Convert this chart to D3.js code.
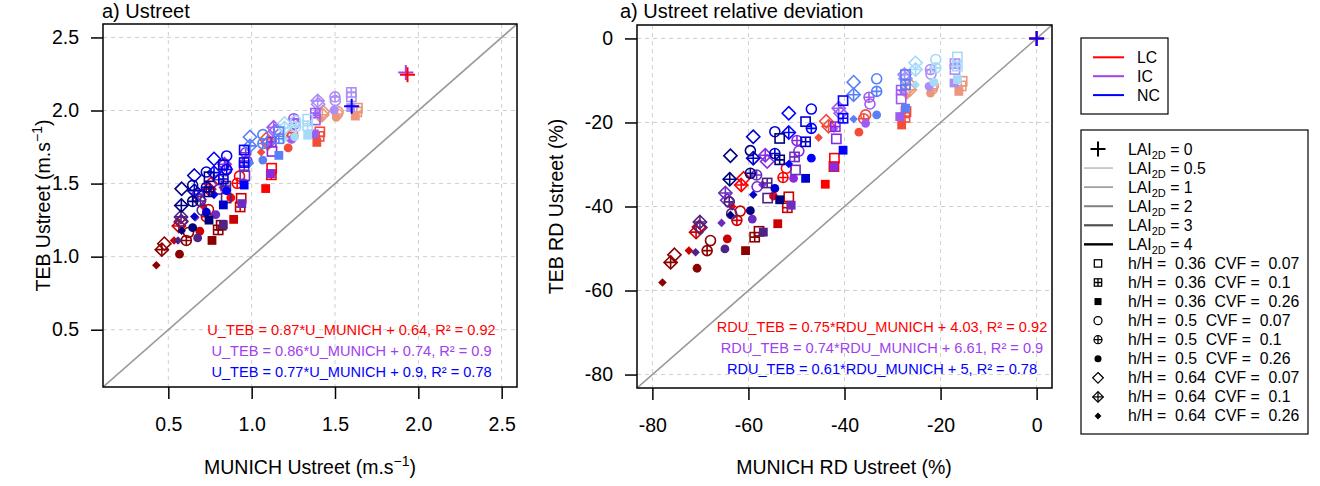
<!DOCTYPE html>
<html><head><meta charset="utf-8">
<script src="https://cdn.jsdelivr.net/npm/d3@7"></script>
<style>
body{margin:0;background:#fff}
text{font-family:"Liberation Sans",Arial,Helvetica,sans-serif;fill:#000}
</style>
</head><body>
<svg id="c" width="1320" height="486"></svg>
<script>
// ---------------- DATA ----------------
const laiLevels = [0.5, 1, 2, 3, 4];
const configNames = ["LC", "IC", "NC"];
const shapeLabels = [
  "h/H =  0.36  CVF =  0.07", "h/H =  0.36  CVF =  0.1", "h/H =  0.36  CVF =  0.26",
  "h/H =  0.5  CVF =  0.07", "h/H =  0.5  CVF =  0.1", "h/H =  0.5  CVF =  0.26",
  "h/H =  0.64  CVF =  0.07", "h/H =  0.64  CVF =  0.1", "h/H =  0.64  CVF =  0.26"
];
const ticksU = [0.5, 1.0, 1.5, 2.0, 2.5];
const ticksRD = [-80, -60, -40, -20, 0];

// Ustreet (MUNICH, TEB) per LAI (0.5,1,2,3,4) x 9 (h/H, CVF) combinations
const lcU = [
 [[1.635,2.016],[1.631,1.991],[1.622,1.962],[1.519,1.991],[1.515,1.976],[1.507,1.953],[1.428,1.991],[1.424,1.971],[1.413,1.940]],
 [[1.409,1.854],[1.405,1.823],[1.391,1.782],[1.246,1.836],[1.238,1.816],[1.219,1.744],[1.087,1.803],[1.097,1.776],[1.057,1.715]],
 [[1.120,1.605],[1.118,1.560],[1.084,1.466],[0.927,1.551],[0.913,1.502],[0.875,1.403],[0.755,1.497],[0.745,1.462],[0.708,1.347]],
 [[0.937,1.399],[0.931,1.340],[0.892,1.255],[0.741,1.322],[0.728,1.273],[0.689,1.174],[0.575,1.237],[0.563,1.210],[0.534,1.111]],
 [[0.817,1.215],[0.799,1.183],[0.762,1.111],[0.621,1.165],[0.608,1.111],[0.567,1.017],[0.476,1.089],[0.461,1.048],[0.428,0.941]]
];
const icU = [
 [[1.598,2.093],[1.598,2.124],[1.594,2.020],[1.502,2.068],[1.500,2.093],[1.494,2.002],[1.399,2.043],[1.396,2.066],[1.388,1.978]],
 [[1.382,1.935],[1.382,1.982],[1.376,1.840],[1.257,1.907],[1.253,1.944],[1.240,1.803],[1.140,1.858],[1.132,1.885],[1.113,1.774]],
 [[1.122,1.720],[1.118,1.785],[1.113,1.568],[0.972,1.654],[0.964,1.711],[0.951,1.507],[0.845,1.598],[0.837,1.632],[0.826,1.474]],
 [[0.959,1.553],[0.955,1.623],[0.941,1.363],[0.805,1.462],[0.803,1.526],[0.785,1.288],[0.685,1.390],[0.678,1.428],[0.662,1.268]],
 [[0.847,1.401],[0.845,1.483],[0.830,1.218],[0.703,1.318],[0.693,1.381],[0.676,1.128],[0.578,1.243],[0.576,1.272],[0.558,1.110]]
];
const ncU = [
 [[1.336,1.941],[1.336,1.896],[1.336,1.831],[1.264,1.929],[1.264,1.888],[1.258,1.819],[1.197,1.912],[1.197,1.880],[1.197,1.807]],
 [[1.163,1.855],[1.163,1.807],[1.163,1.693],[1.067,1.835],[1.067,1.774],[1.067,1.661],[0.990,1.819],[0.990,1.758],[0.990,1.640]],
 [[0.955,1.730],[0.955,1.644],[0.955,1.490],[0.850,1.689],[0.850,1.596],[0.850,1.451],[0.774,1.669],[0.774,1.575],[0.774,1.423]],
 [[0.830,1.628],[0.830,1.531],[0.830,1.354],[0.728,1.579],[0.728,1.474],[0.728,1.305],[0.656,1.555],[0.656,1.451],[0.656,1.275]],
 [[0.744,1.547],[0.744,1.443],[0.744,1.250],[0.646,1.488],[0.646,1.378],[0.646,1.198],[0.580,1.464],[0.578,1.350],[0.580,1.177]]
];
const lai0U = [[1.935,2.245],[1.925,2.260],[1.600,2.030]];   // LC, IC, NC

// Relative deviation (%) (MUNICH, TEB)
const lcRD = [
 [[-15.5,-10.2],[-15.7,-11.3],[-16.2,-12.6],[-21.5,-11.3],[-21.7,-12.0],[-22.1,-13.0],[-26.2,-11.3],[-26.4,-12.2],[-27.0,-13.6]],
 [[-27.2,-17.4],[-27.4,-18.8],[-28.1,-20.6],[-35.6,-18.2],[-36.0,-19.1],[-37.0,-22.3],[-43.8,-19.7],[-43.3,-20.9],[-45.4,-23.6]],
 [[-42.1,-28.5],[-42.2,-30.5],[-44.0,-34.7],[-52.1,-30.9],[-52.8,-33.1],[-54.8,-37.5],[-61.0,-33.3],[-61.5,-34.9],[-63.4,-40.0]],
 [[-51.6,-37.7],[-51.9,-40.3],[-53.9,-44.1],[-61.7,-41.1],[-62.4,-43.3],[-64.4,-47.7],[-70.3,-44.9],[-70.9,-46.1],[-72.4,-50.5]],
 [[-57.8,-45.9],[-58.7,-47.3],[-60.6,-50.5],[-67.9,-48.1],[-68.6,-50.5],[-70.7,-54.7],[-75.4,-51.5],[-76.2,-53.3],[-77.9,-58.1]]
];
const icRD = [
 [[-17.0,-7.4],[-17.0,-6.0],[-17.2,-10.6],[-22.0,-8.5],[-22.1,-7.4],[-22.4,-11.4],[-27.3,-9.6],[-27.5,-8.6],[-27.9,-12.5]],
 [[-28.2,-14.4],[-28.2,-12.3],[-28.5,-18.6],[-34.7,-15.6],[-34.9,-14.0],[-35.6,-20.2],[-40.8,-17.8],[-41.2,-16.6],[-42.2,-21.5]],
 [[-41.7,-23.9],[-41.9,-21.0],[-42.2,-30.6],[-49.5,-26.8],[-49.9,-24.3],[-50.6,-33.3],[-56.1,-29.3],[-56.5,-27.8],[-57.1,-34.8]],
 [[-50.2,-31.3],[-50.4,-28.2],[-51.1,-39.7],[-58.2,-35.3],[-58.3,-32.5],[-59.2,-43.0],[-64.4,-38.5],[-64.8,-36.8],[-65.6,-43.9]],
 [[-56.0,-38.0],[-56.1,-34.4],[-56.9,-46.1],[-63.5,-41.7],[-64.0,-38.9],[-64.9,-50.1],[-70.0,-45.0],[-70.1,-43.7],[-71.0,-50.9]]
];
const ncRD = [
 [[-16.5,-4.4],[-16.5,-6.6],[-16.5,-9.8],[-21.0,-5.0],[-21.0,-7.0],[-21.4,-10.4],[-25.2,-5.8],[-25.2,-7.4],[-25.2,-11.0]],
 [[-27.3,-8.6],[-27.3,-11.0],[-27.3,-16.6],[-33.3,-9.6],[-33.3,-12.6],[-33.3,-18.2],[-38.1,-10.4],[-38.1,-13.4],[-38.1,-19.2]],
 [[-40.3,-14.8],[-40.3,-19.0],[-40.3,-26.6],[-46.9,-16.8],[-46.9,-21.4],[-46.9,-28.5],[-51.6,-17.8],[-51.6,-22.4],[-51.6,-29.9]],
 [[-48.1,-19.8],[-48.1,-24.6],[-48.1,-33.3],[-54.5,-22.2],[-54.5,-27.4],[-54.5,-35.7],[-59.0,-23.4],[-59.0,-28.5],[-59.0,-37.2]],
 [[-53.5,-23.8],[-53.5,-28.9],[-53.5,-38.4],[-59.6,-26.7],[-59.6,-32.1],[-59.6,-41.0],[-63.75,-27.9],[-63.9,-33.5],[-63.75,-42.0]]
];
const lai0RD = [[0,0],[0,0],[0,0]];

const eqU = ["U_TEB = 0.87*U_MUNICH + 0.64, R\u00B2 = 0.92",
             "U_TEB = 0.86*U_MUNICH + 0.74, R\u00B2 = 0.9",
             "U_TEB = 0.77*U_MUNICH + 0.9, R\u00B2 = 0.78"];
const eqRD = ["RDU_TEB = 0.75*RDU_MUNICH + 4.03, R\u00B2 = 0.92",
              "RDU_TEB = 0.74*RDU_MUNICH + 6.61, R\u00B2 = 0.9",
              "RDU_TEB = 0.61*RDU_MUNICH + 5, R\u00B2 = 0.78"];

// ---------------- STYLE ----------------
const cfgColor = ["#FF0000", "#A040F0", "#0000FF"];
const laiColors = [
  ["#EC977D", "#F44B3B", "#FF0000", "#CC0000", "#8B0000"],
  ["#AD8DF7", "#9D5CF2", "#8A2BE2", "#6B2CC0", "#4F2288"],
  ["#A6DAF9", "#5A80F7", "#0000FF", "#0000CD", "#000080"]
];
const laiGreys = ["#C0C0C0", "#A0A0A0", "#808080", "#505050", "#000000"];
const FONT = '"Liberation Sans",Arial,Helvetica,sans-serif';

const svg = d3.select("#c");

function marker(g, type, cx, cy, color) {
  const sw = 1.6;
  const plus = (r) => `M${cx - r},${cy}H${cx + r}M${cx},${cy - r}V${cy + r}`;
  const dia = (r) => `M${cx},${cy - r}L${cx + r},${cy}L${cx},${cy + r}L${cx - r},${cy}Z`;
  switch (type) {
    case 0: g.append("rect").attr("x", cx - 4.6).attr("y", cy - 4.6).attr("width", 9.2).attr("height", 9.2)
              .attr("fill", "none").attr("stroke", color).attr("stroke-width", sw); break;
    case 1: g.append("rect").attr("x", cx - 4.6).attr("y", cy - 4.6).attr("width", 9.2).attr("height", 9.2)
              .attr("fill", "none").attr("stroke", color).attr("stroke-width", sw);
            g.append("path").attr("d", plus(4.6)).attr("stroke", color).attr("stroke-width", sw).attr("fill", "none"); break;
    case 2: g.append("rect").attr("x", cx - 4.4).attr("y", cy - 4.4).attr("width", 8.8).attr("height", 8.8)
              .attr("fill", color); break;
    case 3: g.append("circle").attr("cx", cx).attr("cy", cy).attr("r", 5)
              .attr("fill", "none").attr("stroke", color).attr("stroke-width", sw); break;
    case 4: g.append("circle").attr("cx", cx).attr("cy", cy).attr("r", 5)
              .attr("fill", "none").attr("stroke", color).attr("stroke-width", sw);
            g.append("path").attr("d", plus(5)).attr("stroke", color).attr("stroke-width", sw).attr("fill", "none"); break;
    case 5: g.append("circle").attr("cx", cx).attr("cy", cy).attr("r", 4.4).attr("fill", color); break;
    case 6: g.append("path").attr("d", dia(6.6)).attr("fill", "none").attr("stroke", color).attr("stroke-width", sw); break;
    case 7: g.append("path").attr("d", dia(6.6)).attr("fill", "none").attr("stroke", color).attr("stroke-width", sw);
            g.append("path").attr("d", plus(6.6)).attr("stroke", color).attr("stroke-width", sw).attr("fill", "none"); break;
    case 8: g.append("path").attr("d", dia(4.3)).attr("fill", color); break;
    case 9: g.append("path").attr("d", plus(7.5)).attr("stroke", color).attr("stroke-width", 2).attr("fill", "none"); break;
  }
}

function panel(opt) {
  const x = d3.scaleLinear().domain(opt.domain).range([opt.left, opt.right]);
  const y = d3.scaleLinear().domain(opt.domain).range([opt.bottom, opt.top]);
  const g = svg.append("g");
  const clipId = "clip" + opt.id;
  svg.append("clipPath").attr("id", clipId).append("rect")
    .attr("x", opt.left).attr("y", opt.top).attr("width", opt.right - opt.left).attr("height", opt.bottom - opt.top);

  // grid
  const grid = g.append("g").attr("stroke", "#cfcfcf").attr("stroke-width", 1).attr("stroke-dasharray", "4,4");
  opt.ticks.forEach(t => {
    grid.append("line").attr("x1", x(t)).attr("x2", x(t)).attr("y1", opt.top).attr("y2", opt.bottom);
    grid.append("line").attr("y1", y(t)).attr("y2", y(t)).attr("x1", opt.left).attr("x2", opt.right);
  });
  // 1:1 line
  g.append("line").attr("clip-path", `url(#${clipId})`)
    .attr("x1", x(opt.domain[0])).attr("y1", y(opt.domain[0]))
    .attr("x2", x(opt.domain[1])).attr("y2", y(opt.domain[1]))
    .attr("stroke", "#999999").attr("stroke-width", 1.6);

  // points: LC, IC, NC
  const pts = g.append("g");
  opt.series.forEach((ser, ci) => {
    ser.forEach((lvl, li) => {
      lvl.forEach((p, si) => marker(pts, si, x(p[0]), y(p[1]), laiColors[ci][li]));
    });
  });
  // LAI = 0 crosses (IC, LC, NC)
  [1, 0, 2].forEach(ci => marker(pts, 9, x(opt.zero[ci][0]), y(opt.zero[ci][1]), cfgColor[ci]));

  // axes
  const ax = g.append("g").attr("transform", `translate(0,${opt.bottom})`)
    .call(d3.axisBottom(x).tickValues(opt.ticks).tickSize(12).tickPadding(18).tickFormat(opt.fmt));
  const ay = g.append("g").attr("transform", `translate(${opt.left},0)`)
    .call(d3.axisLeft(y).tickValues(opt.ticks).tickSize(12).tickPadding(12).tickFormat(opt.fmt));
  [ax, ay].forEach(a => {
    a.select(".domain").remove();
    a.selectAll("line").attr("stroke", "#000").attr("stroke-width", 1.5);
    a.selectAll("text").attr("font-size", 19.5).attr("font-family", FONT).attr("fill", "#000");
  });
  // box
  g.append("rect").attr("x", opt.left).attr("y", opt.top)
    .attr("width", opt.right - opt.left).attr("height", opt.bottom - opt.top)
    .attr("fill", "none").attr("stroke", "#000").attr("stroke-width", 1.5);

  // title
  g.append("text").attr("x", opt.titleX).attr("y", 17.5).attr("font-size", 20).text(opt.title);

  // equations
  opt.eqs.forEach((t, i) => {
    g.append("text").attr("x", opt.eqX).attr("y", opt.eqY + i * 21).attr("text-anchor", "middle")
      .attr("font-size", 14.6).style("fill", cfgColor[i]).text(t);
  });

  // axis titles
  const xt = g.append("text").attr("x", opt.xTitleX).attr("y", 474).attr("text-anchor", "middle").attr("font-size", 19.5);
  opt.xTitle(xt);
  const yt = g.append("text").attr("transform", `translate(${opt.yTitleX},${(opt.top + opt.bottom) / 2}) rotate(-90)`)
    .attr("text-anchor", "middle").attr("font-size", 19.5);
  opt.yTitle(yt);
}

function unitTitle(prefix) {
  return (t) => {
    t.append("tspan").text(prefix + " (m.s");
    t.append("tspan").attr("font-size", 14).attr("dy", -8).text("\u22121");
    t.append("tspan").attr("dy", 8).text(")");
  };
}

panel({
  id: "a", left: 103, right: 517, top: 24, bottom: 387, domain: [0.108, 2.592],
  ticks: ticksU, fmt: d3.format(".1f"), series: [lcU, icU, ncU], zero: lai0U,
  title: "a) Ustreet", titleX: 102, eqs: eqU, eqX: 351.5, eqY: 335,
  xTitleX: 310, yTitleX: 50,
  xTitle: unitTitle("MUNICH Ustreet"), yTitle: unitTitle("TEB Ustreet")
});
panel({
  id: "b", left: 637, right: 1052, top: 25, bottom: 388, domain: [-83.2, 3.2],
  ticks: ticksRD, fmt: d => String(d), series: [lcRD, icRD, ncRD], zero: lai0RD,
  title: "a) Ustreet relative deviation", titleX: 620, eqs: eqRD, eqX: 882, eqY: 332,
  xTitleX: 844, yTitleX: 563,
  xTitle: t => t.text("MUNICH RD Ustreet (%)"), yTitle: t => t.text("TEB RD Ustreet (%)")
});

// ---------------- LEGENDS ----------------
const leg1 = svg.append("g");
leg1.append("rect").attr("x", 1081).attr("y", 38).attr("width", 87).attr("height", 76)
  .attr("fill", "#fff").attr("stroke", "#000").attr("stroke-width", 1.2);
configNames.forEach((n, i) => {
  const yy = 57.3 + i * 18.9;
  leg1.append("line").attr("x1", 1093).attr("x2", 1124).attr("y1", yy).attr("y2", yy)
    .attr("stroke", cfgColor[i]).attr("stroke-width", 2);
  leg1.append("text").attr("x", 1137).attr("y", yy + 5.5).attr("font-size", 15.8).text(n);
});

const leg2 = svg.append("g");
leg2.append("rect").attr("x", 1081).attr("y", 130).attr("width", 227).attr("height", 304)
  .attr("fill", "#fff").attr("stroke", "#000").attr("stroke-width", 1.2);
const rowY = i => 149 + i * 19.07;
const laiRow = (i, val) => {
  const t = leg2.append("text").attr("x", 1128).attr("y", rowY(i) + 5.5).attr("font-size", 15.8);
  t.append("tspan").text("LAI");
  t.append("tspan").attr("font-size", 11).attr("dy", 4).text("2D");
  t.append("tspan").attr("dy", -4).text(" = " + val);
};
marker(leg2, 9, 1098, rowY(0), "#000");
laiRow(0, 0);
laiLevels.forEach((v, i) => {
  leg2.append("line").attr("x1", 1084).attr("x2", 1113).attr("y1", rowY(i + 1)).attr("y2", rowY(i + 1))
    .attr("stroke", laiGreys[i]).attr("stroke-width", 1.6 + i * 0.2);
  laiRow(i + 1, v);
});
shapeLabels.forEach((s, i) => {
  const r = i + 6;
  const sg = leg2.append("g").attr("transform", `translate(1098,${rowY(r)}) scale(0.8) translate(-1098,${-rowY(r)})`);
  marker(sg, i, 1098, rowY(r), "#000");
  leg2.append("text").attr("x", 1128).attr("y", rowY(r) + 5.5).attr("font-size", 15.8)
    .attr("xml:space", "preserve").style("white-space", "pre").text(s);
});
</script>
</body></html>
